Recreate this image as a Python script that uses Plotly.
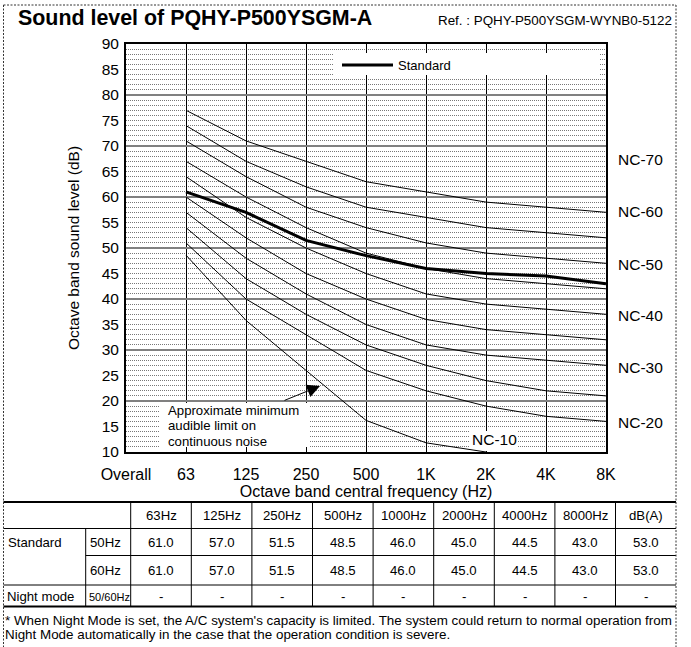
import plotly.graph_objects as go

# ---------------- data ----------------
categories = ["Overall", "63", "125", "250", "500", "1K", "2K", "4K", "8K"]
band_positions = [1, 2, 3, 4, 5, 6, 7, 8]          # category index of 63 ... 8K

standard_50hz = [61.0, 57.0, 51.5, 48.5, 46.0, 45.0, 44.5, 43.0, 53.0]
standard_60hz = [61.0, 57.0, 51.5, 48.5, 46.0, 45.0, 44.5, 43.0, 53.0]
night_mode = ["-", "-", "-", "-", "-", "-", "-", "-", "-"]
table_headers = ["63Hz", "125Hz", "250Hz", "500Hz", "1000Hz", "2000Hz", "4000Hz", "8000Hz", "dB(A)"]

nc_60 = [77, 71, 67, 63, 61, 59, 58, 57]
nc_55 = [74, 67, 62, 58, 56, 54, 53, 52]
nc_50 = [71, 64, 58, 54, 51, 49, 48, 47]
nc_45 = [67, 60, 54, 49, 46, 44, 43, 42]
nc_40 = [64, 56, 50, 45, 41, 39, 38, 37]
nc_35 = [60, 52, 45, 40, 36, 34, 33, 32]
nc_30 = [57, 48, 41, 35, 31, 29, 28, 27]
nc_25 = [54, 44, 37, 31, 27, 24, 22, 21]
nc_20 = [51, 40, 33, 26, 22, 19, 17, 16]
audible_limit = [48.6, 35.8, 26.0, 16.2, 11.8, 10.0]   # 63 Hz ... 2 kHz

nc_label_names = ["NC-70", "NC-60", "NC-50", "NC-40", "NC-30", "NC-20"]
nc_label_levels = [67.3, 57.1, 46.7, 36.7, 26.5, 15.8]

FONT = "Liberation Sans, Arial, Helvetica, sans-serif"

# ---------------- geometry helpers ----------------
W, H = 691, 647
L, R, T, B = 126, 85, 44, 195
PW, PH = W - L - R, H - T - B


def px(x):
    return (x - L) / PW


def py(y):
    return (H - B - y) / PH


def dx(x):   # pixel -> x data units
    return (x - L) / (PW / 8.0)


def dy(y):   # pixel -> y data units
    return 10 + (H - B - y) / (PH / 80.0)


fig = go.Figure()

for vals in [nc_60, nc_55, nc_50, nc_45, nc_40, nc_35, nc_30, nc_25, nc_20]:
    fig.add_trace(go.Scatter(x=band_positions, y=vals, mode="lines",
                             line=dict(color="black", width=1),
                             showlegend=False, hoverinfo="skip"))

fig.add_trace(go.Scatter(x=band_positions[:len(audible_limit)], y=audible_limit, mode="lines",
                         line=dict(color="black", width=1),
                         showlegend=False, hoverinfo="skip"))

fig.add_trace(go.Scatter(x=band_positions, y=standard_50hz[:8], mode="lines",
                         line=dict(color="black", width=3), name="Standard"))

fig.add_trace(go.Scatter(x=[None], y=[None], yaxis="y2", showlegend=False, hoverinfo="skip"))

shapes = []
annotations = []

# white boxes inside the plot (above grid, below traces)
for (x0, x1, y0, y1) in [(333, 600, 53, 75), (160, 310, 403, 447), (470, 518, 431, 451)]:
    shapes.append(dict(type="rect", xref="x", yref="y", x0=dx(x0), x1=dx(x1), y0=dy(y1), y1=dy(y0),
                       fillcolor="white", line=dict(width=0), layer="between"))

# audible-limit note
for txt, yy in zip(["Approximate minimum", "audible limit on", "continuous noise"], [410, 425.5, 441]):
    annotations.append(dict(text=txt, x=dx(166), y=dy(yy), xref="x", yref="y", xanchor="left",
                            yanchor="middle", showarrow=False, font=dict(size=13.2, color="black")))
annotations.append(dict(text="", x=dx(320), y=dy(386), ax=dx(283), ay=dy(401), xref="x", yref="y",
                        axref="x", ayref="y", showarrow=True, arrowhead=2, arrowsize=2.6,
                        arrowwidth=1, arrowcolor="black"))
annotations.append(dict(text="NC-10", x=dx(494), y=dy(439), xref="x", yref="y", xanchor="center",
                        yanchor="middle", showarrow=False, font=dict(size=15.5, color="black")))

# NC labels on the right
for name, lev in zip(nc_label_names, nc_label_levels):
    annotations.append(dict(text=name, x=px(640), y=lev, xref="paper", yref="y", xanchor="center",
                            yanchor="middle", showarrow=False, font=dict(size=15.5, color="black")))

# Title texts
annotations.append(dict(text="<b>Sound level of PQHY-P500YSGM-A</b>", x=px(16), y=py(18), xref="paper",
                        yref="paper", xanchor="left", yanchor="middle", showarrow=False,
                        font=dict(size=21.4, color="black")))
annotations.append(dict(text="Ref. : PQHY-P500YSGM-WYNB0-5122", x=px(674), y=py(21), xref="paper",
                        yref="paper", xanchor="right", yanchor="middle", showarrow=False,
                        font=dict(size=13.4, color="black")))

# ---------------- table ----------------
left_x, right_x = 3.5, 676
y_top, y_hdr, y_r1, y_r2, y_bot = 502, 528.5, 555.5, 585, 606.5
sub_x = 85.7
col_edges = [130.7 + 60.6 * i for i in range(10)]


def hline(y, x0, x1, w):
    shapes.append(dict(type="line", xref="paper", yref="paper", x0=px(x0), x1=px(x1), y0=py(y), y1=py(y),
                       line=dict(color="black", width=w)))


def vline(x, y0, y1, w):
    shapes.append(dict(type="line", xref="paper", yref="paper", x0=px(x), x1=px(x), y0=py(y0), y1=py(y1),
                       line=dict(color="black", width=w)))


hline(y_top, left_x, right_x, 2)
hline(y_hdr, left_x, right_x, 1)
hline(y_r1, sub_x, right_x, 1)
hline(y_r2, left_x, right_x, 1)
hline(y_bot, left_x, right_x, 2)
vline(sub_x, y_hdr, y_bot, 1)
for xe in col_edges[:-1]:
    vline(xe, y_top, y_bot, 1)


def text(t, x, y, size=13.2, anchor="center"):
    annotations.append(dict(text=t, x=px(x), y=py(y), xref="paper", yref="paper", xanchor=anchor,
                            yanchor="middle", showarrow=False, font=dict(size=size, color="black")))


centers = [(col_edges[i] + col_edges[i + 1]) / 2 for i in range(9)]
for c, h in zip(centers, table_headers):
    text(h, c, 515.5)
for c, v in zip(centers, standard_50hz):
    text(f"{v:.1f}", c, 542)
for c, v in zip(centers, standard_60hz):
    text(f"{v:.1f}", c, 570)
for c, v in zip(centers, night_mode):
    text(v, c, 596.5)
text("Standard", 6, 542, anchor="left")
text("50Hz", 88, 542, anchor="left")
text("60Hz", 88, 570, anchor="left")
text("Night mode", 5, 596.5, anchor="left")
text("50/60Hz", 86.5, 596.5, size=11, anchor="left")

text("* When Night Mode is set, the A/C system's capacity is limited. The system could return to normal operation from",
     3, 620, size=13.4, anchor="left")
text("Night Mode automatically in the case that the operation condition is severe.", 3, 634, size=13.4,
     anchor="left")

# dotted outer border
for (x0, y0, x1, y1) in [(3.5, 5, 676, 5), (3.5, 5, 3.5, 647), (676, 5, 676, 647)]:
    shapes.append(dict(type="line", xref="paper", yref="paper", x0=px(x0), x1=px(x1), y0=py(y0), y1=py(y1),
                       line=dict(color="#333", width=1, dash="2px,1.5px")))

fig.update_layout(
    width=W, height=H,
    margin=dict(l=L, r=R, t=T, b=B, autoexpand=False),
    paper_bgcolor="white", plot_bgcolor="white",
    font=dict(family=FONT, color="black"),
    shapes=shapes, annotations=annotations,
    showlegend=True,
    legend=dict(x=px(337), y=py(65), xanchor="left", yanchor="middle", bgcolor="rgba(0,0,0,0)",
                font=dict(size=13, color="black"), itemwidth=51, borderwidth=0),
    xaxis=dict(range=[0, 8], tickmode="array", tickvals=list(range(len(categories))), ticktext=categories,
               showgrid=True, gridcolor="black", gridwidth=1.3, showline=True, mirror=True,
               linecolor="black", linewidth=2, ticks="", zeroline=False, automargin=False,
               tickfont=dict(size=16), ticklabelstandoff=7,
               title=dict(text="Octave band central frequency (Hz)", font=dict(size=16), standoff=0)),
    yaxis=dict(range=[10, 90], tick0=10, dtick=10, showgrid=True, gridcolor="#808080", gridwidth=2,
               showticklabels=False, ticks="", showline=True, mirror=True, linecolor="black", linewidth=2,
               zeroline=False, automargin=False,
               minor=dict(dtick=1, tick0=10, showgrid=True, gridcolor="#777", gridwidth=1, griddash="1px,1px")),
    yaxis2=dict(overlaying="y", side="left", anchor="x", range=[10, 90], tickmode="array",
                tickvals=list(range(10, 95, 5)), showgrid=False, ticks="", showline=False, zeroline=False,
                automargin=False, tickfont=dict(size=15.5), ticklabelstandoff=6,
                title=dict(text="Octave band sound level (dB)", font=dict(size=15.5), standoff=18)),
)

fig.write_html("out.html", config={"displayModeBar": False},
               post_script="document.body.style.margin='0px';document.body.style.overflow='hidden';")
